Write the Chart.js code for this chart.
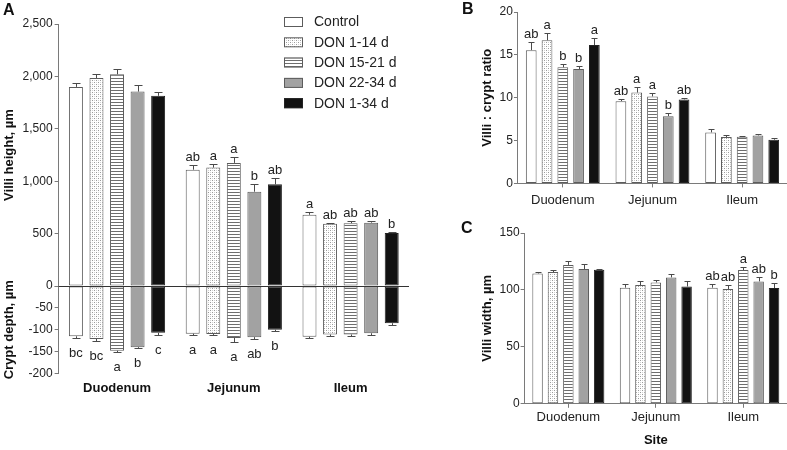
<!DOCTYPE html>
<html>
<head>
<meta charset="utf-8">
<script src="https://cdn.jsdelivr.net/npm/chart.js@4.4.1/dist/chart.umd.min.js"></script>
<style>
  body { margin: 0; background: #fff; width: 787px; height: 450px; overflow: hidden; position: relative; }
  .box { position: absolute; }
  .tag { position: absolute; font: bold 16px "Liberation Sans", Arial, sans-serif; color: #111; }
</style>
</head>
<body>
<div class="box" style="left:0;top:0"><canvas id="chart-a" width="430" height="450"></canvas></div>
<div class="box" style="left:440px;top:0"><canvas id="chart-b" width="347" height="216"></canvas></div>
<div class="box" style="left:440px;top:216px"><canvas id="chart-c" width="347" height="234"></canvas></div>
<div class="tag" style="left:3px;top:1px">A</div>
<div class="tag" style="left:462px;top:0px">B</div>
<div class="tag" style="left:461px;top:219px">C</div>
<script>
var sites = ["Duodenum", "Jejunum", "Ileum"];
var groups = ["Control", "DON 1-14 d", "DON 15-21 d", "DON 22-34 d", "DON 1-34 d"];

// A: villi height (one row per group, one value per site)
var villiHeight = [[1900, 1110, 680], [1985, 1130, 595], [2020, 1175, 600], [1855, 900, 605], [1815, 970, 505]];
var villiHeightErr = [[35, 44, 22], [35, 32, 10], [55, 60, 22], [63, 70, 20], [35, 57, 12]];
var villiHeightLetters = [["", "ab", "a"], ["", "a", "ab"], ["", "a", "ab"], ["", "b", "ab"], ["", "ab", "b"]];

// A: crypt depth, drawn downwards
var cryptDepth = [[-115, -109, -116], [-121, -110, -111], [-148, -119, -111], [-140, -117, -108], [-107, -100, -85]];
var cryptDepthErr = [[4, 4, 3], [5, 3, 3], [2, 9, 3], [2, 4, 3], [6, 2, 4]];
var cryptDepthLetters = [["bc", "a", ""], ["bc", "a", ""], ["a", "a", ""], ["b", "ab", ""], ["c", "b", ""]];

// B: villi : crypt ratio
var ratio = [[15.55, 9.6, 5.95], [16.7, 10.6, 5.4], [13.55, 10.15, 5.45], [13.35, 7.85, 5.6], [16.15, 9.8, 5.1]];
var ratioErr = [[0.97, 0.25, 0.35], [0.8, 0.6, 0.2], [0.35, 0.42, 0.12], [0.3, 0.32, 0.12], [0.85, 0.12, 0.22]];
var ratioLetters = [["ab", "ab", ""], ["a", "a", ""], ["b", "a", ""], ["b", "b", ""], ["a", "ab", ""]];

// C: villi width
var villiWidth = [[114.5, 102, 102], [115.7, 104.3, 100.8], [122, 106.6, 117.5], [118.4, 111, 107.5], [117.8, 103, 101.7]];
var villiWidthErr = [[1, 3.2, 3], [1.5, 3.5, 3.5], [3, 2, 3], [4, 3.2, 4], [1, 5, 4.6]];
var villiWidthLetters = [["", "", "ab"], ["", "", "ab"], ["", "", "a"], ["", "", "ab"], ["", "", "b"]];

var FONT = '"Liberation Sans", Arial, Helvetica, sans-serif';
Chart.defaults.font.family = FONT;
Chart.defaults.color = '#222';

var AXIS = '#7a7a7a';
var EDGE = '#5c5c5c';

function stipple() {
  var c = document.createElement('canvas');
  c.width = 4; c.height = 4;
  var x = c.getContext('2d');
  x.fillStyle = '#fff'; x.fillRect(0, 0, 4, 4);
  x.fillStyle = '#9a9a9a'; x.fillRect(0, 0, 1, 1); x.fillRect(2, 2, 1, 1);
  x.fillStyle = '#d2d2d2'; x.fillRect(2, 0, 1, 1); x.fillRect(0, 2, 1, 1);
  return x.createPattern(c, 'repeat');
}

function stripes() {
  var c = document.createElement('canvas');
  c.width = 4; c.height = 3;
  var x = c.getContext('2d');
  x.fillStyle = '#fff'; x.fillRect(0, 0, 4, 3);
  x.fillStyle = '#6e6e6e'; x.fillRect(0, 0, 4, 1);
  return x.createPattern(c, 'repeat');
}

var fills = ['#ffffff', stipple(), stripes(), '#a2a2a2', '#121212'];
var edges = [EDGE, EDGE, EDGE, EDGE, '#222'];

function barSets(values, errors, letters, axisId) {
  return groups.map(function (name, k) {
    return {
      label: name,
      data: values[k],
      errors: errors[k],
      letters: letters[k],
      yAxisID: axisId,
      stack: 'g' + k,
      backgroundColor: fills[k],
      borderColor: edges[k],
      borderWidth: 1,
      borderSkipped: false,
      categoryPercentage: 0.88,
      barPercentage: 0.68
    };
  });
}

// error bars (outer half only) and the letters over / under them
var errorBars = {
  id: 'errorBars',
  afterDatasetsDraw: function (chart) {
    var ctx = chart.ctx;
    ctx.save();
    ctx.strokeStyle = '#4a4a4a';
    ctx.lineWidth = 1;
    ctx.font = '13px ' + FONT;
    ctx.fillStyle = '#222';
    ctx.textAlign = 'center';
    chart.data.datasets.forEach(function (ds, i) {
      var meta = chart.getDatasetMeta(i);
      var scale = chart.scales[meta.yAxisID];
      var cap = chart.canvas.id === 'chart-a' ? 4 : 3;
      meta.data.forEach(function (bar, j) {
        var v = ds.data[j];
        var down = v < 0;
        var yEnd = Math.round(scale.getPixelForValue(down ? v - ds.errors[j] : v + ds.errors[j])) + 0.5;
        var x = Math.round(bar.x) + 0.5;
        ctx.beginPath();
        ctx.moveTo(x, bar.y);
        ctx.lineTo(x, yEnd);
        ctx.moveTo(x - cap, yEnd);
        ctx.lineTo(x + cap, yEnd);
        ctx.stroke();
        if (ds.letters[j]) {
          if (down) {
            ctx.textBaseline = 'top';
            ctx.fillText(ds.letters[j], bar.x, yEnd + 8);
          } else {
            ctx.textBaseline = 'alphabetic';
            ctx.fillText(ds.letters[j], bar.x, yEnd - 5);
          }
        }
      });
    });
    ctx.restore();
  }
};

var zeroLine = {
  id: 'zeroLine',
  afterDatasetsDraw: function (chart) {
    var ctx = chart.ctx, area = chart.chartArea;
    var y = Math.round(chart.scales.y.getPixelForValue(0)) + 0.5;
    ctx.save();
    ctx.strokeStyle = '#333';
    ctx.lineWidth = 1;
    ctx.beginPath();
    ctx.moveTo(area.left, y);
    ctx.lineTo(area.right, y);
    ctx.stroke();
    ctx.restore();
  }
};

var groupLegend = {
  id: 'groupLegend',
  afterDraw: function (chart) {
    var ctx = chart.ctx;
    ctx.save();
    ctx.font = '14px ' + FONT;
    ctx.textBaseline = 'middle';
    ctx.textAlign = 'left';
    groups.forEach(function (name, k) {
      var y = 17 + k * 20.3;
      ctx.fillStyle = fills[k];
      ctx.fillRect(284, y, 19, 10);
      ctx.strokeStyle = edges[k];
      ctx.strokeRect(284.5, y + 0.5, 18, 9);
      ctx.fillStyle = '#222';
      ctx.fillText(name, 314, y + 5.5);
    });
    ctx.restore();
  }
};

function yTitle(text) {
  return { display: true, text: text, color: '#111', font: { size: 13, weight: 'bold' }, padding: { top: 2, bottom: 3 } };
}

function tickGrid() {
  return { display: true, drawOnChartArea: false, drawTicks: true, tickLength: 4, color: AXIS };
}

// panel A: villi height on top, crypt depth below, sharing one axis line
new Chart(document.getElementById('chart-a'), {
  type: 'bar',
  data: {
    labels: sites,
    datasets: barSets(villiHeight, villiHeightErr, villiHeightLetters, 'y')
      .concat(barSets(cryptDepth, cryptDepthErr, cryptDepthLetters, 'yb'))
  },
  options: {
    responsive: false,
    animation: false,
    layout: { padding: { left: 0, right: 21, top: 24, bottom: 47 } },
    plugins: { legend: { display: false }, tooltip: { enabled: false } },
    scales: {
      x: {
        stacked: true,
        grid: { display: false, drawTicks: false },
        border: { display: false },
        ticks: { padding: 7, color: '#111', font: { size: 13, weight: 'bold' } }
      },
      y: {
        stack: 'a', stackWeight: 3, weight: 2, position: 'left',
        min: 0, max: 2500, stacked: false,
        ticks: { stepSize: 500, autoSkip: false, padding: 2, font: { size: 12 }, callback: function (v) { return v.toLocaleString('en-US'); } },
        grid: tickGrid(),
        border: { color: AXIS },
        title: yTitle('Villi height, µm')
      },
      yb: {
        stack: 'a', stackWeight: 1, weight: 1, position: 'left',
        min: -200, max: 0, stacked: false,
        ticks: { stepSize: 50, autoSkip: false, padding: 2, font: { size: 12 }, callback: function (v) { return v === 0 ? '' : v; } },
        grid: tickGrid(),
        border: { color: AXIS },
        title: yTitle('Crypt depth, µm')
      }
    }
  },
  plugins: [zeroLine, errorBars, groupLegend]
});

function siteAxis(pad, extra) {
  var ax = {
    grid: { display: true, drawOnChartArea: false, offset: false, tickLength: 4, color: AXIS },
    border: { color: AXIS },
    ticks: { padding: pad, color: '#222', font: { size: 13 } }
  };
  if (extra) ax.title = extra;
  return ax;
}

// panel B
new Chart(document.getElementById('chart-b'), {
  type: 'bar',
  data: { labels: sites, datasets: barSets(ratio, ratioErr, ratioLetters, 'y') },
  options: {
    responsive: false,
    animation: false,
    layout: { padding: { left: 38, right: 0, top: 12, bottom: 3 } },
    plugins: { legend: { display: false }, tooltip: { enabled: false } },
    scales: {
      x: siteAxis(5),
      y: {
        min: 0, max: 20,
        ticks: { stepSize: 5, padding: 1, font: { size: 12 } },
        grid: tickGrid(),
        border: { color: AXIS },
        title: yTitle('Villi : crypt ratio')
      }
    }
  },
  plugins: [errorBars]
});

// panel C
new Chart(document.getElementById('chart-c'), {
  type: 'bar',
  data: { labels: sites, datasets: barSets(villiWidth, villiWidthErr, villiWidthLetters, 'y') },
  options: {
    responsive: false,
    animation: false,
    layout: { padding: { left: 38, right: 0, top: 17, bottom: 0 } },
    plugins: { legend: { display: false }, tooltip: { enabled: false } },
    scales: {
      x: siteAxis(2, { display: true, text: 'Site', color: '#111', font: { size: 13, weight: 'bold' }, padding: { top: 5, bottom: 2 } }),
      y: {
        min: 0, max: 150,
        ticks: { stepSize: 50, padding: 1, font: { size: 12 } },
        grid: tickGrid(),
        border: { color: AXIS },
        title: yTitle('Villi width, µm')
      }
    }
  },
  plugins: [errorBars]
});
</script>
</body>
</html>
